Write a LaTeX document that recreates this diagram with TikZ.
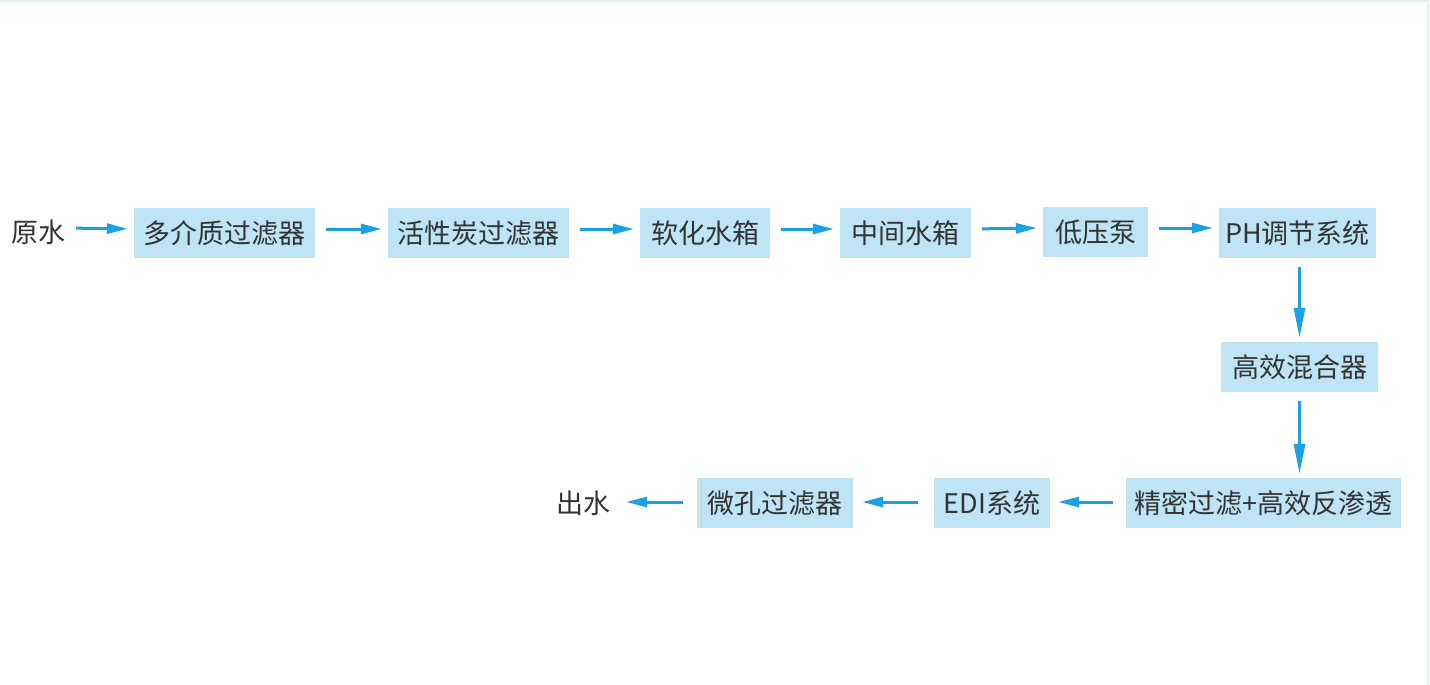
\documentclass[tikz,border=0pt]{standalone}
\usepackage{fontspec}
\setmainfont{Noto Sans CJK SC}
\usetikzlibrary{arrows.meta}
\definecolor{boxblue}{HTML}{BEE4F6}
\definecolor{flowblue}{HTML}{1BA0E1}
\definecolor{inkgray}{HTML}{333333}
\definecolor{edgegray}{HTML}{E2EFF1}
\tikzset{
	stage/.style={fill=boxblue, text=inkgray, minimum height=50pt, inner sep=0pt,
		font=\fontsize{27pt}{30pt}\selectfont},
	endtext/.style={text=inkgray, inner sep=0pt, font=\fontsize{27pt}{30pt}\selectfont},
	flow/.style={draw=flowblue, line width=3pt, -{Triangle[length=21pt,width=10pt]},
		shorten <=11pt, shorten >=6pt},
	downflow/.style={draw=flowblue, line width=3pt, -{Triangle[length=30pt,width=11pt]},
		shorten <=9pt, shorten >=4pt}
}
\begin{document}
\begin{tikzpicture}[x=1pt,y=-1pt]
				\useasboundingbox (0,0) rectangle (1430,685);
				\draw[edgegray, line width=2pt] (0,1) -- (1428,1) -- (1428,685);
				% top row
				\node[endtext] (raw) at (38,232) {原水};
				\node[stage, minimum width=181pt] (media) at (224.5,233) {多介质过滤器};
				\node[stage, minimum width=181pt] (carbon) at (478.5,233) {活性炭过滤器};
				\node[stage, minimum width=130pt] (soft) at (705,233) {软化水箱};
				\node[stage, minimum width=131pt] (mid) at (905.5,233) {中间水箱};
				\node[stage, minimum width=105pt] (pump) at (1095.5,232) {低压泵};
				\node[stage, minimum width=157pt] (ph) at (1297.5,233) {PH调节系统};
				% right column
				\node[stage, minimum width=157pt] (mixer) at (1299.5,367) {高效混合器};
				\node[stage, minimum width=275pt] (ro) at (1263.5,503) {精密过滤+高效反渗透};
				% bottom row
				\node[stage, minimum width=116pt] (edi) at (992,503) {EDI系统};
				\node[stage, minimum width=156pt] (micro) at (775,503) {微孔过滤器};
				\node[endtext] (out) at (583,503) {出水};
				\draw[flow] ([yshift=4pt]raw.east) -- ([yshift=4pt]media.west);
				\draw[flow] ([yshift=4pt]media.east) -- ([yshift=4pt]carbon.west);
				\draw[flow] ([yshift=4pt]carbon.east) -- ([yshift=4pt]soft.west);
				\draw[flow] ([yshift=4pt]soft.east) -- ([yshift=4pt]mid.west);
				\draw[flow] ([yshift=4pt]mid.east) -- ([yshift=4pt]pump.west);
				\draw[flow] ([yshift=4pt]pump.east) -- ([yshift=4pt]pump.east -| ph.west);
				\draw[downflow] ([xshift=2pt]ph.south) -- ([xshift=2pt]ph.south |- mixer.north);
				\draw[downflow] (mixer.south) -- (mixer.south |- ro.north);
				\draw[flow, shorten <=13pt, shorten >=8pt] ([yshift=1pt]ro.west) -- ([yshift=1pt]edi.east);
				\draw[flow, shorten <=16pt, shorten >=9pt] ([yshift=1pt]edi.west) -- ([yshift=1pt]micro.east);
				\draw[flow, shorten <=14pt, shorten >=16pt] ([yshift=1pt]micro.west) -- ([yshift=1pt]out.east);
			\end{tikzpicture}
\end{document}
